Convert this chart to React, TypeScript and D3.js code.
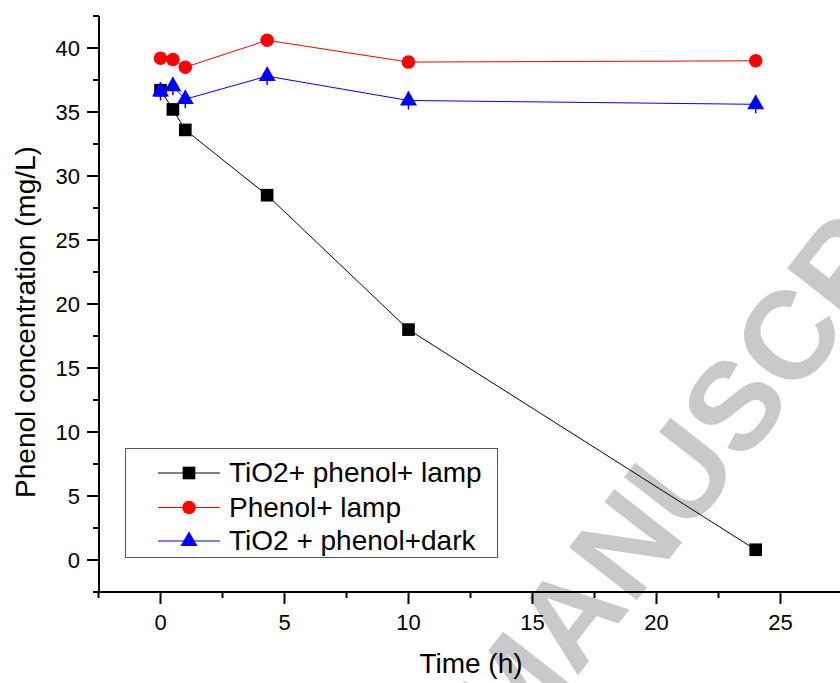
import { useEffect, useRef } from 'react';
import * as d3 from 'd3';

// time points (h)
const times = [0, 0.5, 1, 4.3, 10, 24];

// phenol concentration (mg/L) for each run
const tio2Lamp = [36.7, 35.2, 33.6, 28.5, 18.0, 0.8];
const phenolLamp = [39.2, 39.1, 38.5, 40.6, 38.9, 39.0];
const tio2Dark = [36.6, 37.0, 36.0, 37.8, 35.9, 35.6];
const tio2DarkErr = [0.7, 0.7, 0.7, 0.7, 0.7, 0.7];

const seriesNames = ['TiO2+ phenol+ lamp', 'Phenol+ lamp', 'TiO2 + phenol+dark'];

const xMajor = [0, 5, 10, 15, 20, 25];
const xMinor = [-2.5, 2.5, 7.5, 12.5, 17.5, 22.5, 27.5];
const yMajor = [0, 5, 10, 15, 20, 25, 30, 35, 40];
const yMinor = [-2.5, 2.5, 7.5, 12.5, 17.5, 22.5, 27.5, 32.5, 37.5, 42.5];

const App = () => {
  const svgRef = useRef<SVGSVGElement>(null);

  useEffect(() => {
    document.body.style.margin = '0';
    const width = 840;
    const height = 683;
    const font = '"Liberation Sans", Arial, Helvetica, sans-serif';

    const svg = d3.select(svgRef.current);
    svg.selectAll('*').remove();
    svg.attr('width', width).attr('height', height).style('display', 'block');

    const x = d3.scaleLinear().domain([-2.5, 27.5]).range([98.5, 842.5]);
    const y = d3.scaleLinear().domain([-2.5, 42.5]).range([592, 16]);

    svg.append('rect').attr('width', width).attr('height', height).attr('fill', 'white');

    // watermark (runs off the page in the original too)
    svg.append('text')
      .attr('transform', 'translate(512,760) rotate(-52)')
      .style('font-family', font)
      .style('font-weight', 'bold')
      .style('font-size', '125px')
      .attr('fill', '#c8c9cb')
      .text('MANUSCRIPT');

    // axes
    const axes = svg.append('g').attr('stroke', 'black').attr('stroke-width', 2);
    axes.append('line').attr('x1', 99).attr('x2', 99).attr('y1', y(42.5)).attr('y2', 593);
    axes.append('line').attr('x1', 93).attr('x2', 840).attr('y1', 592).attr('y2', 592);

    axes.selectAll('.ymaj').data(yMajor).enter().append('line')
      .attr('x1', 87).attr('x2', 99).attr('y1', d => y(d)).attr('y2', d => y(d));
    axes.selectAll('.ymin').data(yMinor).enter().append('line')
      .attr('x1', 93).attr('x2', 99).attr('y1', d => y(d)).attr('y2', d => y(d));
    axes.selectAll('.xmaj').data(xMajor).enter().append('line')
      .attr('x1', d => x(d)).attr('x2', d => x(d)).attr('y1', 592).attr('y2', 604);
    axes.selectAll('.xmin').data(xMinor).enter().append('line')
      .attr('x1', d => x(d)).attr('x2', d => x(d)).attr('y1', 592).attr('y2', 598);

    svg.selectAll('.ylab').data(yMajor).enter().append('text')
      .attr('x', 80).attr('y', d => y(d) + 8)
      .attr('text-anchor', 'end')
      .style('font-family', font).style('font-size', '22px')
      .text(d => d);
    svg.selectAll('.xlab').data(xMajor).enter().append('text')
      .attr('x', d => x(d)).attr('y', 630)
      .attr('text-anchor', 'middle')
      .style('font-family', font).style('font-size', '22px')
      .text(d => d);

    svg.append('text')
      .attr('x', 471).attr('y', 673)
      .attr('text-anchor', 'middle')
      .style('font-family', font).style('font-size', '28px')
      .text('Time (h)');
    svg.append('text')
      .attr('transform', 'translate(35,322) rotate(-90)')
      .attr('text-anchor', 'middle')
      .style('font-family', font).style('font-size', '28px')
      .text('Phenol concentration (mg/L)');

    const line = d3.line<number>().x((_, i) => x(times[i])).y(d => y(d));

    const series = [
      { values: tio2Lamp, color: 'black', symbol: d3.symbolSquare, size: 160 },
      { values: phenolLamp, color: '#ff0000', symbol: d3.symbolCircle, size: 145 },
      { values: tio2Dark, color: '#0000ff', symbol: d3.symbolTriangle, size: 125 },
    ];

    series.forEach((s, k) => {
      svg.append('path')
        .attr('d', line(s.values))
        .attr('fill', 'none')
        .attr('stroke', s.color)
        .attr('stroke-width', 1);
      if (k === 2) {
        svg.selectAll('.err').data(s.values).enter().append('line')
          .attr('x1', (_, i) => x(times[i])).attr('x2', (_, i) => x(times[i]))
          .attr('y1', (d, i) => y(d + tio2DarkErr[i])).attr('y2', (d, i) => y(d - tio2DarkErr[i]))
          .attr('stroke', s.color).attr('stroke-width', 1.5);
      }
      svg.selectAll('.pt' + k).data(s.values).enter().append('path')
        .attr('d', d3.symbol().type(s.symbol).size(s.size)())
        .attr('transform', (d, i) => `translate(${x(times[i])},${y(d)})`)
        .attr('fill', s.color);
    });

    // legend
    const lg = svg.append('g');
    lg.append('rect')
      .attr('x', 125.5).attr('y', 448.5).attr('width', 372).attr('height', 109)
      .attr('fill', 'white').attr('stroke', '#555').attr('stroke-width', 1);
    const rows = [473, 507.5, 541];
    series.forEach((s, k) => {
      lg.append('line')
        .attr('x1', 158).attr('x2', 220).attr('y1', rows[k]).attr('y2', rows[k])
        .attr('stroke', s.color).attr('stroke-width', 1);
      lg.append('path')
        .attr('d', d3.symbol().type(s.symbol).size(s.size)())
        .attr('transform', `translate(189,${rows[k]})`)
        .attr('fill', s.color);
      lg.append('text')
        .attr('x', 229).attr('y', rows[k] + 9)
        .style('font-family', font).style('font-size', '28px')
        .text(seriesNames[k]);
    });
  }, []);

  return <svg ref={svgRef}></svg>;
};

export default App;
